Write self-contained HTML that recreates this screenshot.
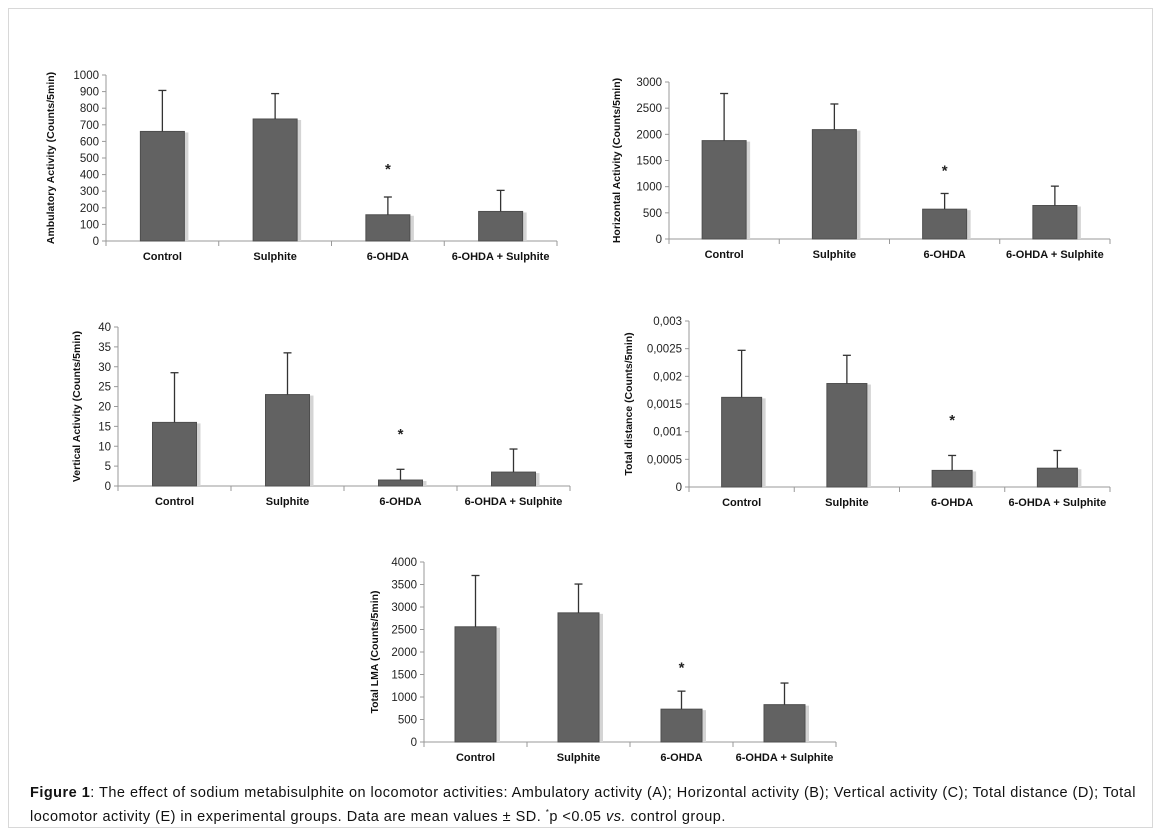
<!DOCTYPE html>
<html><head><meta charset="utf-8">
<style>
body{margin:0;background:#fff;width:1161px;height:836px;overflow:hidden;font-family:"Liberation Sans",Arial,sans-serif}
#frame{position:absolute;left:8px;top:8px;width:1143px;height:818px;border:1px solid #d8d8d8}
#caption{position:absolute;left:30px;top:784px;width:1110px;font-size:14.5px;letter-spacing:0.48px;line-height:19px;color:#111}
</style></head><body>
<div id="frame"></div>
<svg id="fig" width="1161" height="836" style="position:absolute;left:0;top:0"></svg>
<div id="caption"><b>Figure 1</b>: The effect of sodium metabisulphite on locomotor activities: Ambulatory activity (A); Horizontal activity (B); Vertical activity (C); Total distance (D); Total locomotor activity (E) in experimental groups. Data are mean values ± SD. <sup style="font-size:8px">*</sup>p &lt;0.05 <i>vs.</i> control group.</div>
<script>
const categories=["Control","Sulphite","6-OHDA","6-OHDA + Sulphite"];
const meansA=[660,735,158,178];
const errTopA=[907,888,265,305];
const ticksA=["0","100","200","300","400","500","600","700","800","900","1000"];
const meansB=[1880,2090,570,640];
const errTopB=[2780,2580,870,1010];
const ticksB=["0","500","1000","1500","2000","2500","3000"];
const meansC=[16,23,1.5,3.5];
const errTopC=[28.5,33.5,4.2,9.3];
const ticksC=["0","5","10","15","20","25","30","35","40"];
const meansD=[0.00162,0.00187,0.0003,0.00034];
const errTopD=[0.00247,0.00238,0.00057,0.00066];
const ticksD=["0","0,0005","0,001","0,0015","0,002","0,0025","0,003"];
const meansE=[2560,2870,730,830];
const errTopE=[3700,3510,1130,1310];
const ticksE=["0","500","1000","1500","2000","2500","3000","3500","4000"];
const starIndex=2;
const starValues=[445,1350,13.6,0.00125,1700];

const NS="http://www.w3.org/2000/svg";
const svg=document.getElementById('fig');
function mk(tag,attrs,parent,text){const e=document.createElementNS(NS,tag);for(const k in attrs)e.setAttribute(k,attrs[k]);if(text!==undefined)e.textContent=text;parent.appendChild(e);return e;}

function chart(id,box,ticks,maxV,means,errs,starV,title,barW,labelDy){
  const g=mk('g',{},svg);
  
  
  const y=v=>box.y0-(v/maxV)*(box.y0-box.top);
  const n=categories.length, cw=(box.right-box.left)/n;
  const x=i=>box.left+cw*(i+0.5);
  const ya=mk('line',{x1:box.left,y1:box.top,x2:box.left,y2:box.y0,stroke:'#999','stroke-width':1},g);
  
  
  const step=maxV/(ticks.length-1);
  ticks.forEach((t,i)=>{
    const yy=y(step*i);
    mk('line',{x1:box.left-4,y1:yy,x2:box.left,y2:yy,stroke:'#999'},g);
    const tl=mk('text',{x:box.left-7,y:yy+4,'text-anchor':'end','font-size':11.5,fill:'#222'},g,t);
    
    
  });
  const xa=mk('line',{x1:box.left,y1:box.y0,x2:box.right,y2:box.y0,stroke:'#999'},g);
  
  
  for(let i=0;i<=n;i++){const xx=box.left+cw*i;mk('line',{x1:xx,y1:box.y0,x2:xx,y2:box.y0+5,stroke:'#999'},g);}
  means.forEach((m,i)=>{
    const cx=x(i);
    mk('rect',{x:cx-barW/2+2,y:y(m)+1,width:barW+2,height:box.y0-y(m)-1,fill:'#d4d4d4'},g);
    const b=mk('rect',{x:cx-barW/2,y:y(m),width:barW,height:box.y0-y(m),fill:'#626262',stroke:'#4e4e4e','stroke-width':1},g);
    
    
    const e=mk('line',{x1:cx,y1:y(m),x2:cx,y2:y(errs[i]),stroke:'#333','stroke-width':1.3},g);
    
    
    mk('line',{x1:cx-4,y1:y(errs[i]),x2:cx+4,y2:y(errs[i]),stroke:'#333','stroke-width':1.3},g);
    const cl=mk('text',{x:cx,y:box.y0+labelDy,'text-anchor':'middle','font-size':11,'font-weight':'bold',fill:'#111'},g,categories[i]);
    
    
  });
  const s=mk('text',{x:x(starIndex),y:y(starV)+7,'text-anchor':'middle','font-size':15,'font-weight':'bold',fill:'#222'},g,'*');
  
  
  const ty=(box.top+box.y0)/2;
  const tt=mk('text',{x:box.titleX,y:ty,'text-anchor':'middle','font-size':10.5,'font-weight':'bold',fill:'#111',transform:`rotate(-90 ${box.titleX} ${ty})`},g,title);
  
  
}
chart('a',{left:106,right:557,top:75,y0:241,titleX:54},ticksA,1000,meansA,errTopA,starValues[0],'Ambulatory Activity (Counts/5min)',44,19);
chart('b',{left:669,right:1110,top:82,y0:239,titleX:620},ticksB,3000,meansB,errTopB,starValues[1],'Horizontal Activity (Counts/5min)',44,19);
chart('c',{left:118,right:570,top:327,y0:486,titleX:80},ticksC,40,meansC,errTopC,starValues[2],'Vertical Activity (Counts/5min)',44,19);
chart('d',{left:689,right:1110,top:321,y0:487,titleX:632},ticksD,0.003,meansD,errTopD,starValues[3],'Total distance  (Counts/5min)',40,19);
chart('e',{left:424,right:836,top:562,y0:742,titleX:378},ticksE,4000,meansE,errTopE,starValues[4],'Total LMA  (Counts/5min)',41,19);
</script>
</body></html>
